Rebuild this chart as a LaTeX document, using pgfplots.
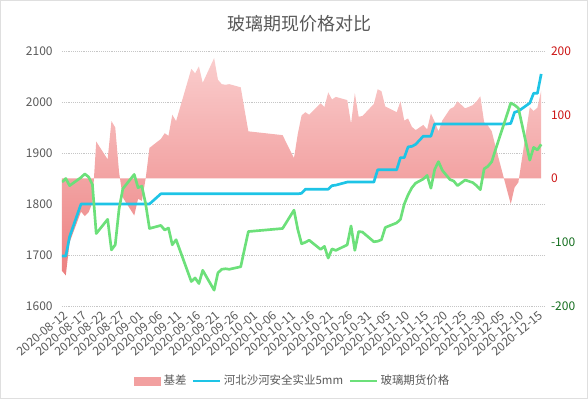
\documentclass[border=0pt]{standalone}
\usepackage{fontspec}
\setmainfont{Noto Sans CJK SC}
\usepackage{pgfplots}
\usepackage{pgfplotstable}
\pgfplotsset{compat=1.18}

\definecolor{spotc}{RGB}{30,196,230}
\definecolor{futc}{RGB}{108,224,122}
\definecolor{areatop}{RGB}{250,205,205}
\definecolor{areabot}{RGB}{236,128,128}
\definecolor{arealeg}{RGB}{242,160,160}
\definecolor{txt}{RGB}{89,89,89}
\definecolor{redt}{RGB}{204,20,20}
\definecolor{greent}{RGB}{20,110,30}

\pgfplotstableread{
d spot fut basis
0 1698 1843 -145
1 1698 1850 -152
2 1736 1836 -100
5 1800 1852 -52
6 1800 1859 -59
7 1800 1853 -53
8 1800 1838 -38
9 1800 1742 58
12 1800 1770 30
13 1800 1710 90
14 1800 1720 80
15 1800 1790 10
16 1800 1830 -30
19 1800 1858 -58
20 1800 1832 -32
21 1800 1835 -35
22 1800 1800 0
23 1800 1752 48
26 1820 1758 62
27 1820 1749 71
28 1820 1753 67
29 1820 1720 100
30 1820 1730 90
34 1820 1648 172
35 1820 1655 165
36 1820 1644 176
37 1820 1670 150
40 1820 1631 189
41 1820 1665 155
42 1820 1672 148
43 1820 1673 147
44 1820 1672 148
47 1820 1677 143
48 1820 1712 108
49 1820 1746 74
58 1820 1752 68
61 1820 1788 32
62 1820 1750 70
63 1821 1722 99
64 1829 1725 104
65 1829 1729 100
68 1829 1711 118
69 1829 1717 112
70 1829 1694 135
71 1836 1712 124
72 1837 1709 128
75 1843 1720 123
76 1843 1757 86
77 1843 1709 134
78 1843 1746 97
79 1843 1745 98
82 1843 1726 117
83 1867 1727 140
84 1867 1730 137
85 1867 1754 113
86 1867 1757 110
88 1867 1763 104
89 1891 1770 121
90 1891 1800 91
91 1912 1818 94
92 1913 1832 81
93 1917 1841 76
95 1933 1849 84
96 1933 1856 77
97 1933 1831 102
98 1957 1868 89
99 1957 1883 74
100 1957 1866 91
102 1957 1848 109
103 1957 1845 112
104 1957 1836 121
106 1957 1847 110
108 1957 1842 115
109 1957 1836 121
110 1957 1828 129
111 1957 1869 88
112 1957 1874 83
113 1957 1883 74
114 1957 1907 50
117 1957 1975 -18
118 1958 1998 -40
119 1980 1994 -14
120 1982 1988 -6
123 1998 1886 112
124 2017 1911 106
125 2017 1906 111
126 2055 1917 138
}\datatable

\pgfplotsset{
  base/.style={
    scale only axis, width=362.25pt, height=191.25pt,
    at={(0,0)}, anchor=south west,
    xmin=0, xmax=127,
    axis line style={draw=none}, tick style={draw=none},
    /pgf/number format/assume math mode=true,
    ticklabel style={font=\fontsize{9}{10}\selectfont, text=txt},
  }
}

\begin{document}
\begin{tikzpicture}
% left axis: grid and labels
\begin{axis}[base,
  ymin=1600, ymax=2100, ytick={1600,1700,...,2100},
  yticklabel style={xshift=-3.5pt},
  ymajorgrids, grid style={densely dotted, line width=0.6pt, gray!45},
  xtick={0,5,...,125},
  xticklabels={2020-08-12,2020-08-17,2020-08-22,2020-08-27,2020-09-01,2020-09-06,2020-09-11,2020-09-16,2020-09-21,2020-09-26,2020-10-01,2020-10-06,2020-10-11,2020-10-16,2020-10-21,2020-10-26,2020-10-31,2020-11-05,2020-11-10,2020-11-15,2020-11-20,2020-11-25,2020-11-30,2020-12-05,2020-12-10,2020-12-15},
  xticklabel style={rotate=40, anchor=east, font=\fontsize{9}{10}\selectfont, yshift=-6pt, xshift=2pt},
  yticklabel style={/pgf/number format/1000 sep={}},
]
\addplot[draw=none] coordinates {(0,1600)};
\end{axis}
% right axis: basis area
\begin{axis}[base,
  ymin=-200, ymax=200, ytick={-200,-100,0,100,200},
  yticklabel pos=right, xtick=\empty,
  yticklabels={{\textcolor{greent}{-200}},{\textcolor{greent}{-100}},{\textcolor{redt}{0}},{\textcolor{redt}{100}},{\textcolor{redt}{200}}},
  yticklabel style={xshift=1pt},
]
\addplot[draw=none, top color=areatop, bottom color=areabot] table[x=d, y=basis] {\datatable} \closedcycle;
\end{axis}
% left axis: lines and legend
\begin{axis}[base,
  ymin=1600, ymax=2100, ticks=none,
  legend columns=3,
  legend style={at={(0.478,-0.294)}, anchor=center, draw=none, fill=none,
    font=\fontsize{8.6}{10}\selectfont, text=txt, inner sep=0pt,
    /tikz/every even column/.append style={column sep=2pt}},
  legend image code/.code={\draw[#1, line width=2pt] (0pt,0pt) -- (20pt,0pt);},
]
\addlegendimage{legend image code/.code={\fill[arealeg] (0pt,-3pt) rectangle (20pt,3pt);}}
\addlegendentry{基差}
\addplot[spotc, line width=2pt, line join=round] table[x=d, y=spot] {\datatable};
\addlegendentry{河北沙河安全实业5mm}
\addplot[futc, line width=2pt, line join=round] table[x=d, y=fut] {\datatable};
\addlegendentry{玻璃期货价格}
\end{axis}
\node[font=\fontsize{13.5}{15}\selectfont, text=txt] at (177.75pt,211.5pt) {玻璃期现价格对比};
\draw[gray!25, line width=0.75pt] (-46.125pt,-69.375pt) rectangle (394.125pt,229.125pt);
\end{tikzpicture}
\end{document}
